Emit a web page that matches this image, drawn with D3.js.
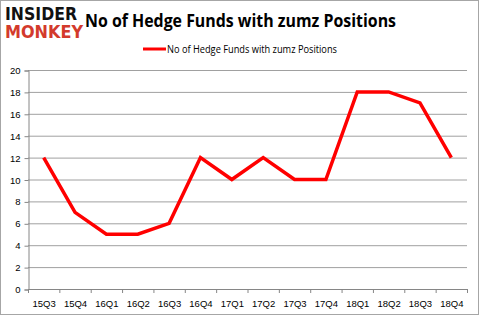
<!DOCTYPE html>
<html>
<head>
<meta charset="utf-8">
<script src="https://cdn.jsdelivr.net/npm/d3@7"></script>
<style>
  body { margin: 0; background: #fff; }
  svg { display: block; font-family: "Open Sans", "DejaVu Sans", sans-serif; }
</style>
</head>
<body>
<main></main>
<script>
const quarters = ['15Q3', '15Q4', '16Q1', '16Q2', '16Q3', '16Q4', '17Q1', '17Q2', '17Q3', '17Q4', '18Q1', '18Q2', '18Q3', '18Q4'];
const funds = [12, 7, 5, 5, 6, 12, 10, 12, 10, 10, 18, 18, 17, 12];
const yTicks = [0, 2, 4, 6, 8, 10, 12, 14, 16, 18, 20];
const seriesName = 'No of Hedge Funds with zumz Positions';

const W = 479, H = 315;
const plotLeft = 28, plotRight = 467, plotTop = 70, plotBottom = 289;

const svg = d3.select('main')
    .append('svg')
    .attr('width', W)
    .attr('height', H);

// outer frame
svg.append('rect')
    .attr('x', 0.5).attr('y', 0.5)
    .attr('width', W - 1).attr('height', H - 1)
    .attr('fill', '#fff')
    .attr('stroke', '#a6a6a6');

const xScale = d3.scaleBand()
    .domain(quarters)
    .range([plotLeft, plotRight]);

const yScale = d3.scaleLinear()
    .domain([0, 20])
    .range([plotBottom, plotTop]);

// grid
svg.append('g')
    .selectAll('line')
    .data(yTicks.filter((d) => d > 0))
    .enter()
    .append('line')
    .attr('x1', plotLeft).attr('x2', plotRight)
    .attr('y1', (d) => yScale(d) + 0.5)
    .attr('y2', (d) => yScale(d) + 0.5)
    .attr('stroke', '#a0a0a0');

// y axis
const yAxis = svg.append('g')
    .attr('transform', `translate(${plotLeft + 0.5}, 0.5)`)
    .call(d3.axisLeft(yScale).tickValues(yTicks).tickSize(4).tickPadding(4));
yAxis.select('.domain').attr('stroke', '#868686');
yAxis.selectAll('.tick line').attr('stroke', '#868686');
yAxis.selectAll('.tick text').attr('font-size', 9.5).attr('fill', '#000');

// x axis
const xAxis = svg.append('g')
    .attr('transform', `translate(0.5, ${plotBottom + 0.5})`)
    .call(d3.axisBottom(xScale).tickSize(0).tickPadding(11));
xAxis.select('.domain').attr('stroke', '#868686').attr('d', `M${plotLeft},0H${plotRight}`);
xAxis.selectAll('.tick text').attr('font-size', 9.5).attr('fill', '#000');
svg.append('g')
    .selectAll('line')
    .data(d3.range(quarters.length + 1))
    .enter()
    .append('line')
    .attr('x1', (i) => plotLeft + i * xScale.step() + 0.5)
    .attr('x2', (i) => plotLeft + i * xScale.step() + 0.5)
    .attr('y1', plotBottom)
    .attr('y2', plotBottom + 4)
    .attr('stroke', '#868686');

// series
const line = d3.line()
    .x((d, i) => xScale(quarters[i]) + xScale.bandwidth() / 2)
    .y((d) => yScale(d));

svg.append('path')
    .datum(funds)
    .attr('d', line)
    .attr('fill', 'none')
    .attr('stroke', '#ff0000')
    .attr('stroke-width', 3.5);

// title
svg.append('text')
    .attr('x', 85).attr('y', 27)
    .attr('font-size', 17)
    .attr('font-weight', 'bold')
    .attr('textLength', 311)
    .attr('lengthAdjust', 'spacingAndGlyphs')
    .attr('fill', '#000')
    .text(seriesName);

// legend
svg.append('line')
    .attr('x1', 143).attr('x2', 166)
    .attr('y1', 49).attr('y2', 49)
    .attr('stroke', '#ff0000')
    .attr('stroke-width', 3);
svg.append('text')
    .attr('x', 167).attr('y', 53)
    .attr('font-size', 10)
    .attr('textLength', 170)
    .attr('lengthAdjust', 'spacingAndGlyphs')
    .attr('fill', '#000')
    .text(seriesName);

// logo
const logo = svg.append('g')
    .attr('font-family', '"DejaVu Sans Condensed", "DejaVu Sans", sans-serif')
    .attr('font-weight', 'bold');
logo.append('text')
    .attr('x', 5).attr('y', 20)
    .attr('font-size', 17)
    .attr('textLength', 72)
    .attr('lengthAdjust', 'spacingAndGlyphs')
    .attr('fill', '#111')
    .text('INSIDER');
logo.append('text')
    .attr('x', 5).attr('y', 38)
    .attr('font-size', 17)
    .attr('textLength', 78)
    .attr('lengthAdjust', 'spacingAndGlyphs')
    .attr('fill', '#d33a2c')
    .text('MONKEY');
</script>
</body>
</html>
